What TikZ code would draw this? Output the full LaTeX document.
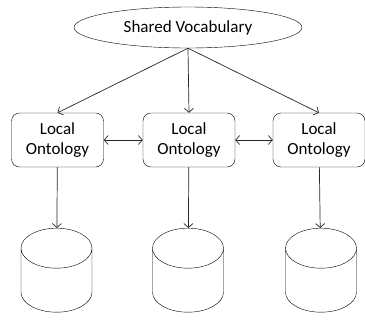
\documentclass[tikz,border=0pt]{standalone}
\usepackage{fontspec}
\setmainfont{Carlito}
\usepackage{tikz}
\usetikzlibrary{arrows,arrows.meta,shapes,positioning}

\tikzset{ontotip/.tip={Straight Barb[length=4pt,width=9pt]}}

\begin{document}
\begin{tikzpicture}[x=1pt, y=-1pt,
    lobox/.style={draw, rounded corners=8pt, minimum width=92pt, minimum height=54pt, align=center, font=\fontsize{17}{20}\selectfont},
    dbase/.style={draw, cylinder, shape border rotate=90, aspect=6, minimum width=71pt, minimum height=84pt, anchor=north},
    link/.style={-ontotip, line width=0.7pt, black!85}]
            \useasboundingbox (0,0) rectangle (365,322);
            \node[draw, ellipse, minimum width=228pt, minimum height=41pt, inner sep=0pt, font=\fontsize{17}{20}\selectfont] (vocab) at (188,27.5) {Shared Vocabulary};
            \node[lobox] (local1) at (57.5,140) {Local\\Ontology};
            \node[lobox] (local2) at (189,140) {Local\\Ontology};
            \node[lobox] (local3) at (319,140) {Local\\Ontology};
            \node[dbase] (db1) at (56.5,228) {};
            \node[dbase] (db2) at (188,228) {};
            \node[dbase] (db3) at (321,228) {};
            
            \draw[link] (vocab.south) -- (local1.north);
            \draw[link] (vocab.south) -- (local2.north);
            \draw[link] (vocab.south) -- (local3.north);
            \draw[link, ontotip-ontotip] (local1) -- (local2);
            \draw[link, ontotip-ontotip] (local2) -- (local3);
            \draw[link] (local1) -- (db1);
            \draw[link] (local2) -- (db2);
            \draw[link] (local3) -- (db3);
        \end{tikzpicture}
\end{document}
